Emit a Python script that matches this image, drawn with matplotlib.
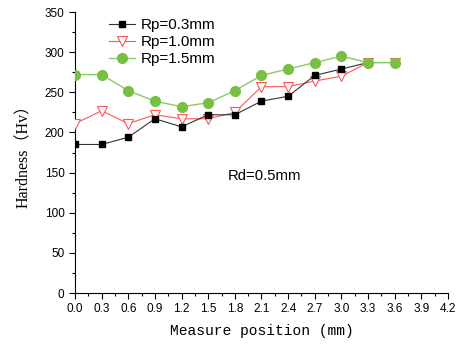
import matplotlib
matplotlib.use("Agg")
import matplotlib.pyplot as plt
from matplotlib.ticker import MultipleLocator

x_black = [0.0, 0.3, 0.6, 0.9, 1.2, 1.5, 1.8, 2.1, 2.4, 2.7, 3.0, 3.3]
hv_03 = [185, 185, 194, 217, 207, 222, 222, 239, 245, 271, 279, 287]
x_all = [0.0, 0.3, 0.6, 0.9, 1.2, 1.5, 1.8, 2.1, 2.4, 2.7, 3.0, 3.3, 3.6]
hv_10 = [211, 227, 211, 222, 217, 217, 225, 257, 257, 264, 270, 287, 287]
hv_15 = [272, 272, 252, 239, 232, 237, 252, 271, 279, 287, 295, 287, 287]
xticks = [round(0.3 * i, 1) for i in range(15)]

plt.rcParams["font.family"] = ["Liberation Sans", "DejaVu Sans"]
fig = plt.figure(figsize=(4.64, 3.45), dpi=100)
ax = fig.add_axes([0.1616, 0.1507, 0.8039, 0.8145])

ax.plot(x_black, hv_03, "-", color="#333333", lw=0.8, marker="s", ms=5,
        mfc="black", mec="black", label="Rp=0.3mm", zorder=4)
ax.plot(x_all, hv_10, "-", color="#ff5555", lw=0.8, marker="v", ms=7.5,
        mfc="white", mec="#ff5555", mew=0.8, label="Rp=1.0mm", zorder=3)
ax.plot(x_all, hv_15, "-", color="#88cc66", lw=1.0, marker="o", ms=7,
        mfc="#77c043", mec="#77c043", label="Rp=1.5mm", zorder=5)

ax.set_xlim(0, 4.2); ax.set_ylim(0, 350)
ax.set_xticks(xticks); ax.set_xticklabels([f"{v:.1f}" for v in xticks])
ax.xaxis.set_minor_locator(MultipleLocator(0.15))
ax.yaxis.set_major_locator(MultipleLocator(50)); ax.yaxis.set_minor_locator(MultipleLocator(25))
ax.tick_params(which="both", direction="out", labelsize=8.5, width=0.8)
ax.tick_params(which="major", length=4); ax.tick_params(which="minor", length=2.5)
for s in ("top", "right"):
    ax.spines[s].set_visible(False)

ax.set_xlabel("Measure position (mm)", family="Liberation Mono", fontsize=10.5, labelpad=6)
ax.set_ylabel("Hardness（Hv）", family=["Liberation Serif", "Noto Sans CJK SC"], fontsize=11.5, labelpad=9)
ax.text(1.72, 146, "Rd=0.5mm", fontsize=10.7, va="center")

ax.legend(loc="upper left", bbox_to_anchor=(0.075, 1.0), frameon=False, fontsize=11,
          handlelength=1.7, handletextpad=0.4, labelspacing=0.2, borderaxespad=0)

fig.savefig("out.png", dpi=100)
